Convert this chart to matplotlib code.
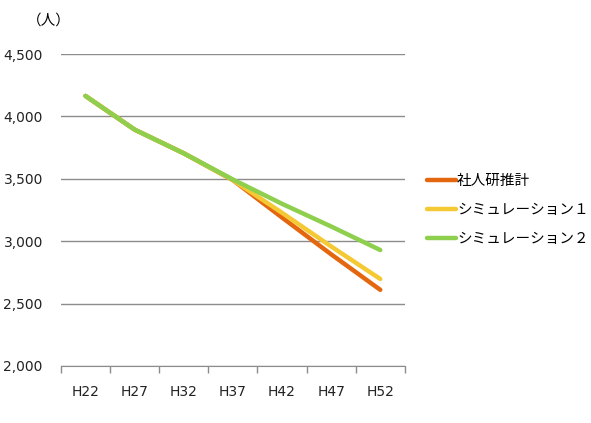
import matplotlib.pyplot as plt
import numpy as np

plt.rcParams['font.family'] = 'DejaVu Sans'

years = ["H22", "H27", "H32", "H37", "H42", "H47", "H52"]
shajinken = [4165, 3895, 3705, 3490, 3190, 2895, 2610]
sim1 = [4165, 3895, 3705, 3490, 3228, 2958, 2697]
sim2 = [4165, 3895, 3705, 3495, 3300, 3118, 2929]
series_names = ["社人研推計", "シミュレーション１", "シミュレーション２"]
colors = ["#E4670F", "#F4C934", "#8ECF4E"]

fig = plt.figure(figsize=(5.91, 4.23), dpi=100)
ax = fig.add_axes([0.103, 0.135, 0.582, 0.737])

x = np.arange(len(years))
for vals, name, c in zip([shajinken, sim1, sim2], series_names, colors):
    ax.plot(x, vals, color=c, lw=3.2, label=name, solid_capstyle="round")

ax.set_xlim(-0.5, len(years) - 0.5)
ax.set_ylim(2000, 4500)
ax.set_yticks(np.arange(2000, 4501, 500))
ax.set_yticklabels([f"{v:,}" for v in range(2000, 4501, 500)], fontsize=10, color="#222222")
ax.yaxis.grid(True, color="#8c8c8c", lw=1)
ax.set_axisbelow(True)
ax.tick_params(axis="y", length=0, pad=13)

ax.set_xticks(x)
ax.set_xticklabels(years, fontsize=10, color="#222222")
ax.set_xticks(np.arange(-0.5, len(years)), minor=True)
ax.tick_params(axis="x", which="major", length=0, pad=14)
ax.tick_params(axis="x", which="minor", length=5, color="#8c8c8c", width=1)

for s in ["top", "right", "left"]:
    ax.spines[s].set_visible(False)
ax.spines["bottom"].set_color("#8c8c8c")

fig.text(0.046, 0.952, "（人）", fontsize=10.5, family=["Noto Sans CJK JP"], va="center")

leg = ax.legend(loc="center left", bbox_to_anchor=(1.025, 0.5), frameon=False,
                prop={"family": ["Noto Sans CJK JP"], "size": 10.5},
                handlelength=2.0, handletextpad=0.1, labelspacing=1.05)

fig.savefig("out.png", dpi=100)
